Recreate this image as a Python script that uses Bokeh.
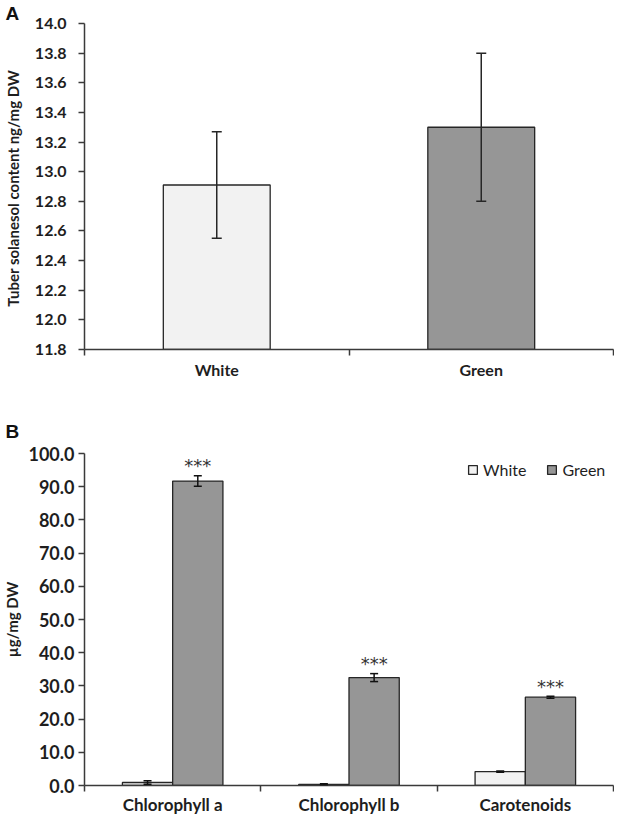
from bokeh.plotting import figure
from bokeh.models import (ColumnDataSource, Range1d, FixedTicker, LinearAxis,
                          Whisker, TeeHead, NumeralTickFormatter,
                          Legend, LegendItem)
from bokeh.layouts import column
from bokeh.embed import file_html
from bokeh.resources import INLINE
from bokeh.core.properties import value

# ---------------- data ----------------
# Panel A: tuber solanesol content
a_categories = ["White", "Green"]
a_values = [12.91, 13.30]
a_errors = [0.36, 0.50]
a_y_ticks = [11.8, 12.0, 12.2, 12.4, 12.6, 12.8, 13.0, 13.2, 13.4, 13.6, 13.8, 14.0]

# Panel B: pigments
b_categories = ["Chlorophyll a", "Chlorophyll b", "Carotenoids"]
b_white = [0.9, 0.35, 4.2]
b_white_err = [0.5, 0.2, 0.2]
b_green = [91.7, 32.5, 26.6]
b_green_err = [1.6, 1.2, 0.3]
b_marks = ["***", "***", "***"]
b_y_ticks = [0, 10, 20, 30, 40, 50, 60, 70, 80, 90, 100]

# ---------------- style ----------------
WHITE_FILL = "#f2f2f2"
GREEN_FILL = "#969696"
EDGE = "#262626"
AXIS = "#3a3a3a"
TXT = "#1e1e1e"
FONT = "Lato"
W = 614


def style_y(p, ticks, label, tick_size, tick_standoff, label_standoff):
    ax = p.yaxis[0]
    ax.ticker = FixedTicker(ticks=ticks)
    ax.formatter = NumeralTickFormatter(format="0.0")
    ax.axis_label = label
    ax.axis_label_text_font = FONT
    ax.axis_label_text_font_style = "bold"
    ax.axis_label_text_font_size = "15px"
    ax.axis_label_text_color = TXT
    ax.axis_label_standoff = label_standoff
    ax.major_label_text_font = FONT
    ax.major_label_text_font_style = "bold"
    ax.major_label_text_font_size = tick_size
    ax.major_label_text_color = TXT
    ax.major_label_standoff = tick_standoff
    ax.major_tick_in = 0
    ax.major_tick_out = 6
    ax.minor_tick_line_color = None
    ax.axis_line_color = AXIS
    ax.axis_line_width = 1.5
    ax.major_tick_line_color = AXIS
    ax.major_tick_line_width = 1.5


def add_x_axis(p, cats, label_size, label_standoff):
    # labels at category centres, tick marks on category boundaries
    n = len(cats)
    centers = [i + 0.5 for i in range(n)]
    axis = LinearAxis(ticker=FixedTicker(ticks=centers, minor_ticks=list(range(n + 1))),
                      major_label_overrides={c: name for c, name in zip(centers, cats)},
                      major_tick_line_color=None, major_tick_in=0, major_tick_out=6,
                      minor_tick_in=0, minor_tick_out=6,
                      minor_tick_line_color=AXIS, minor_tick_line_width=1.5,
                      axis_line_color=AXIS, axis_line_width=1.5,
                      major_label_standoff=label_standoff,
                      major_label_text_font=FONT,
                      major_label_text_font_style="bold",
                      major_label_text_font_size=label_size,
                      major_label_text_color=TXT)
    p.add_layout(axis, "below")


def base_fig(n, y_range, height, top, bottom, letter, letter_standoff):
    p = figure(width=W, height=height, x_range=Range1d(0, n), y_range=y_range,
               output_backend="svg", toolbar_location=None, x_axis_location=None,
               min_border_left=79, min_border_right=1, min_border_top=top,
               min_border_bottom=bottom)
    p.grid.visible = False
    p.outline_line_color = None
    p.background_fill_color = "white"
    p.border_fill_color = "white"
    p.title.text = letter
    p.title.align = "left"
    p.title.offset = -79
    p.title.text_font = "Liberation Sans"
    p.title.text_font_style = "bold"
    p.title.text_font_size = "19px"
    p.title.text_color = "#111111"
    p.title.standoff = letter_standoff
    return p


# ---------------- Panel A ----------------
pa = base_fig(len(a_categories), Range1d(a_y_ticks[0], a_y_ticks[-1]), 381, 16, 30, "A", 0)
a_x = [i + 0.5 for i in range(len(a_categories))]
src_a = ColumnDataSource(dict(
    x=a_x, cat=a_categories, val=a_values,
    upper=[v + e for v, e in zip(a_values, a_errors)],
    lower=[v - e for v, e in zip(a_values, a_errors)],
    color=[WHITE_FILL, GREEN_FILL]))
pa.vbar(x="x", top="val", bottom=a_y_ticks[0], width=0.404, source=src_a,
        fill_color="color", line_color=EDGE, line_width=1.3)
pa.add_layout(Whisker(source=src_a, base="x", upper="upper", lower="lower",
                      line_color=EDGE, line_width=1.5, level="overlay",
                      upper_head=TeeHead(size=10, line_color=EDGE, line_width=1.5),
                      lower_head=TeeHead(size=10, line_color=EDGE, line_width=1.5)))
style_y(pa, a_y_ticks, "Tuber solanesol content  ng/mg DW", "16px", 12, 10)
add_x_axis(pa, a_categories, "16px", 4)

# ---------------- Panel B ----------------
pb = base_fig(len(b_categories), Range1d(b_y_ticks[0], b_y_ticks[-1]), 436, 72, 30, "B", 24)
off = 0.1425
bw = 0.285
b_x = [i + 0.5 for i in range(len(b_categories))]
src_b = ColumnDataSource(dict(
    xw=[x - off for x in b_x], xg=[x + off for x in b_x],
    cat=b_categories, white=b_white, green=b_green,
    w_up=[v + e for v, e in zip(b_white, b_white_err)],
    w_lo=[v - e for v, e in zip(b_white, b_white_err)],
    g_up=[v + e for v, e in zip(b_green, b_green_err)],
    g_lo=[v - e for v, e in zip(b_green, b_green_err)],
    mark=b_marks))
rw = pb.vbar(x="xw", top="white", width=bw, source=src_b,
             fill_color=WHITE_FILL, line_color=EDGE, line_width=1.3)
rg = pb.vbar(x="xg", top="green", width=bw, source=src_b,
             fill_color=GREEN_FILL, line_color=EDGE, line_width=1.3)
for base, up, lo in [("xw", "w_up", "w_lo"), ("xg", "g_up", "g_lo")]:
    pb.add_layout(Whisker(source=src_b, base=base, level="overlay",
                          upper=up, lower=lo, line_color="#111111", line_width=1.5,
                          upper_head=TeeHead(size=8, line_color="#111111", line_width=1.5),
                          lower_head=TeeHead(size=8, line_color="#111111", line_width=1.5)))
pb.text(x="xg", y="g_up", text="mark", source=src_b,
        text_align="center", text_baseline="alphabetic", y_offset=-10,
        text_font=value("DejaVu Sans"), text_font_size="18px", text_color="#333333")
style_y(pb, b_y_ticks, "µg/mg DW", "18px", 4, 4)
add_x_axis(pb, b_categories, "17px", 2)
legend = Legend(items=[LegendItem(label="White", renderers=[rw]),
                       LegendItem(label="Green", renderers=[rg])],
                orientation="horizontal", location=(383, 306),
                border_line_color=None, background_fill_alpha=0,
                label_text_font=FONT, label_text_font_size="16px", label_text_color=TXT,
                glyph_width=11, glyph_height=11, label_standoff=5, spacing=20,
                label_height=20, padding=0, margin=0)
pb.add_layout(legend)

layout = column(pa, pb)
open("out.html", "w").write(file_html(layout, INLINE))
